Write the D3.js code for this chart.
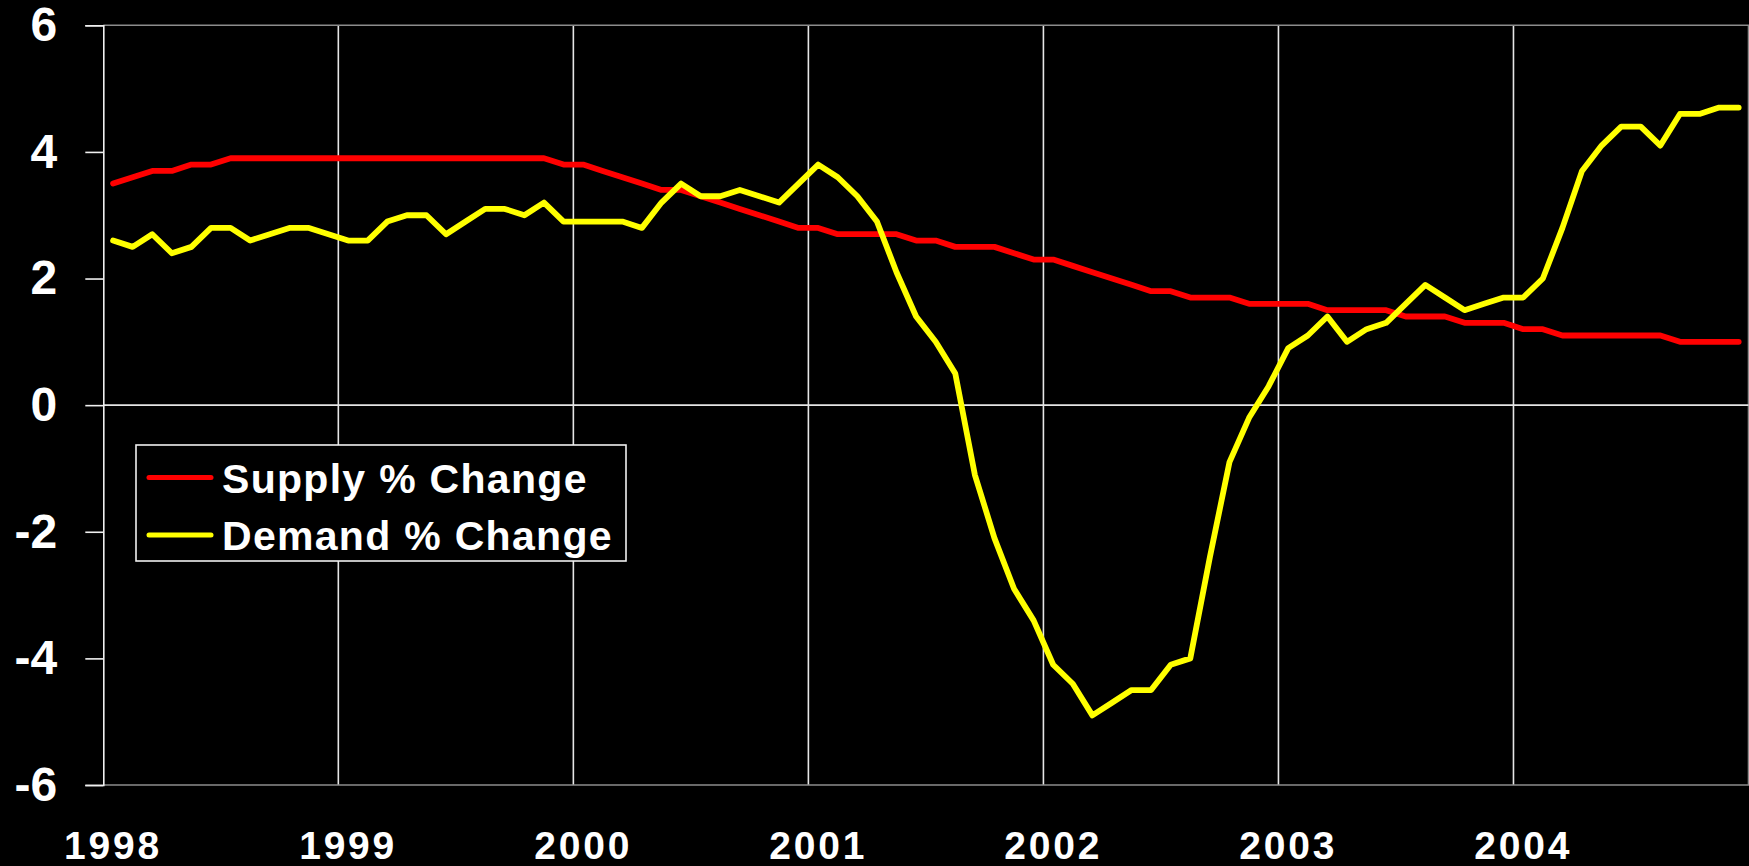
<!DOCTYPE html>
<html>
<head>
<meta charset="utf-8">
<script src="https://cdn.jsdelivr.net/npm/d3@7"></script>
<style>
  html, body { margin: 0; padding: 0; background: #000; }
  svg { display: block; }
  text { font-family: "Liberation Sans", Arial, sans-serif; font-weight: bold; fill: #fff; }
</style>
</head>
<body>
<svg id="chart" width="1749" height="866"></svg>
<script>
// ---- data (monthly, Jan 1998 – Dec 2004) ----
const years = ["1998", "1999", "2000", "2001", "2002", "2003", "2004"];
const yTicks = [-6, -4, -2, 0, 2, 4, 6];
const seriesNames = ["Supply % Change", "Demand % Change"];

const supply = [
  3.5, 3.6, 3.7, 3.7, 3.8, 3.8, 3.9, 3.9, 3.9, 3.9, 3.9, 3.9,
  3.9, 3.9, 3.9, 3.9, 3.9, 3.9, 3.9, 3.9, 3.9, 3.9, 3.9, 3.8,
  3.8, 3.7, 3.6, 3.5, 3.4, 3.4, 3.3, 3.2, 3.1, 3.0, 2.9, 2.8,
  2.8, 2.7, 2.7, 2.7, 2.7, 2.6, 2.6, 2.5, 2.5, 2.5, 2.4, 2.3,
  2.3, 2.2, 2.1, 2.0, 1.9, 1.8, 1.8, 1.7, 1.7, 1.7, 1.6, 1.6,
  1.6, 1.6, 1.5, 1.5, 1.5, 1.5, 1.4, 1.4, 1.4, 1.3, 1.3, 1.3,
  1.2, 1.2, 1.1, 1.1, 1.1, 1.1, 1.1, 1.1, 1.0, 1.0, 1.0, 1.0
];

const demand = [
  2.6, 2.5, 2.7, 2.4, 2.5, 2.8, 2.8, 2.6, 2.7, 2.8, 2.8, 2.7,
  2.6, 2.6, 2.9, 3.0, 3.0, 2.7, 2.9, 3.1, 3.1, 3.0, 3.2, 2.9,
  2.9, 2.9, 2.9, 2.8, 3.2, 3.5, 3.3, 3.3, 3.4, 3.3, 3.2, 3.5,
  3.8, 3.6, 3.3, 2.9, 2.1, 1.4, 1.0, 0.5, -1.1, -2.1, -2.9, -3.4,
  -4.1, -4.4, -4.9, -4.7, -4.5, -4.5, -4.1, -4.0, -2.4, -0.9, -0.2, 0.3,
  0.9, 1.1, 1.4, 1.0, 1.2, 1.3, 1.6, 1.9, 1.7, 1.5, 1.6, 1.7,
  1.7, 2.0, 2.8, 3.7, 4.1, 4.4, 4.4, 4.1, 4.6, 4.6, 4.7, 4.7
];

const colors = ["#ff0000", "#ffff00"];

(function () {
  // ---- layout ----
  const pL = 103.3, pR = 1748.5, pT = 25.3, pB = 785;
  const svg = d3.select("#chart");

  svg.append("rect").attr("width", 1749).attr("height", 866).attr("fill", "#000");

  const months = d3.range(supply.length);
  const x = d3.scaleBand().domain(months).range([pL, pR]).padding(0);
  const xc = i => x(i) + x.bandwidth() / 2;
  const y = d3.scaleLinear().domain([-6, 6]).range([pB, pT]);

  // vertical gridlines at year boundaries
  const yearStarts = years.map((d, k) => x(k * 12)).slice(1);
  svg.append("g").selectAll("line").data(yearStarts).join("line")
    .attr("x1", d => d).attr("x2", d => d)
    .attr("y1", pT).attr("y2", pB)
    .attr("stroke", "#e6e6e6").attr("stroke-width", 1.6);

  // plot border (top, right, bottom) in gray
  svg.append("path")
    .attr("d", `M${pL},${pT}H${pR}V${pB}H${pL}`)
    .attr("fill", "none").attr("stroke", "#8c8c8c").attr("stroke-width", 1.6);

  // zero line
  svg.append("line")
    .attr("x1", pL).attr("x2", pR)
    .attr("y1", y(0)).attr("y2", y(0))
    .attr("stroke", "#e6e6e6").attr("stroke-width", 1.6);

  // y axis
  const yAxis = svg.append("g")
    .attr("transform", `translate(${pL},0)`)
    .call(d3.axisLeft(y).tickValues(yTicks).tickSize(18).tickPadding(28).tickFormat(d => String(d)));
  yAxis.select(".domain").attr("stroke", "#f0f0f0").attr("stroke-width", 1.6);
  yAxis.selectAll(".tick line").attr("stroke", "#f0f0f0").attr("stroke-width", 1.6);
  yAxis.selectAll(".tick text")
    .attr("fill", "#fff")
    .style("font-family", "'Liberation Sans', Arial, sans-serif")
    .style("font-weight", "bold")
    .style("font-size", "48px");

  // x axis labels (centered on January of each year)
  const xAxis = svg.append("g")
    .attr("transform", `translate(0,${pB})`)
    .call(d3.axisBottom(x).tickValues(years.map((d, k) => k * 12))
      .tickSize(0).tickPadding(46.5).tickFormat(i => years[i / 12]));
  xAxis.select(".domain").remove();
  xAxis.selectAll(".tick text")
    .attr("fill", "#fff")
    .style("font-family", "'Liberation Sans', Arial, sans-serif")
    .style("font-weight", "bold")
    .style("font-size", "39px")
    .style("letter-spacing", "2.8px");

  // lines
  const line = d3.line().x((d, i) => xc(i)).y(d => y(d));
  [supply, demand].forEach((s, k) => {
    svg.append("path")
      .datum(s)
      .attr("d", line)
      .attr("fill", "none")
      .attr("stroke", colors[k])
      .attr("stroke-width", 5.8)
      .attr("stroke-linejoin", "round")
      .attr("stroke-linecap", "round");
  });

  // legend
  const lg = svg.append("g");
  lg.append("rect")
    .attr("x", 136).attr("y", 445).attr("width", 490).attr("height", 116)
    .attr("fill", "#000").attr("stroke", "#f0f0f0").attr("stroke-width", 1.6);
  const rows = [477.5, 535];
  seriesNames.forEach((name, k) => {
    lg.append("line")
      .attr("x1", 149).attr("x2", 211)
      .attr("y1", rows[k]).attr("y2", rows[k])
      .attr("stroke", colors[k]).attr("stroke-width", 5).attr("stroke-linecap", "round");
    lg.append("text")
      .attr("x", 222).attr("y", rows[k] + 15)
      .style("font-size", "41px")
      .style("letter-spacing", "1.3px")
      .text(name);
  });
})();
</script>
</body>
</html>
